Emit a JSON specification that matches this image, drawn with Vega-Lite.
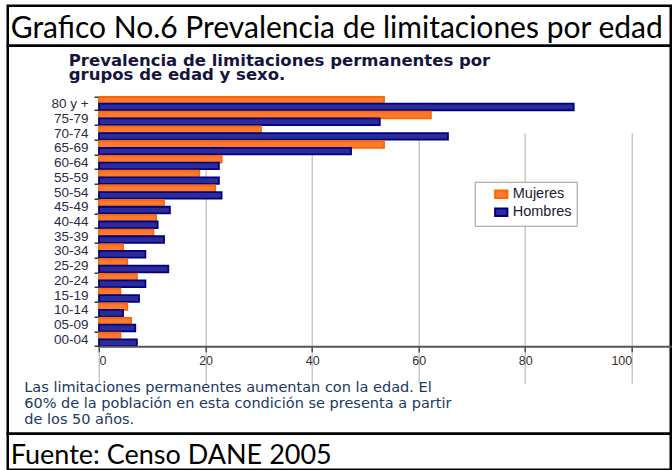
{
  "$schema": "https://vega.github.io/schema/vega-lite/v6.json",
  "padding": {"left": 5.75, "top": 3.75, "right": 0, "bottom": 0},
  "background": "white",
  "spacing": 0,
  "bounds": "flush",
  "resolve": {"scale": {"x": "independent", "y": "independent"}},
  "config": {"view": {"stroke": "#000", "strokeWidth": 2.5}, "concat": {"spacing": 0}},
  "vconcat": [
    {
      "width": 663,
      "height": 40,
      "data": {"values": [{"t": "Grafico No.6 Prevalencia de limitaciones por edad"}]},
      "mark": {"type": "text", "align": "left", "baseline": "alphabetic", "dx": 3, "dy": 12, "font": "Lato", "fontSize": 30, "color": "#000"},
      "encoding": {
        "text": {"field": "t"},
        "x": {"datum": 0, "type": "quantitative", "scale": {"domain": [0, 1]}, "axis": null},
        "y": {"datum": 0.5, "type": "quantitative", "scale": {"domain": [0, 1]}, "axis": null}
      }
    },
    {
      "width": 663,
      "height": 388,
      "title": {
        "text": ["Prevalencia de limitaciones permanentes por", "grupos de edad y sexo."],
        "anchor": "start",
        "frame": "group",
        "offset": -45,
        "dx": 61,
        "font": "DejaVu Sans",
        "fontSize": 16.5,
        "fontWeight": "bold",
        "color": "#141440",
        "lineHeight": 14.5
      },
      "layer": [
        {
          "data": {"values": [
            {"edad": "80 y +", "sexo": "Mujeres", "valor": 53.5}, {"edad": "80 y +", "sexo": "Hombres", "valor": 89.1},
            {"edad": "75-79", "sexo": "Mujeres", "valor": 62.3}, {"edad": "75-79", "sexo": "Hombres", "valor": 52.7},
            {"edad": "70-74", "sexo": "Mujeres", "valor": 30.4}, {"edad": "70-74", "sexo": "Hombres", "valor": 65.5},
            {"edad": "65-69", "sexo": "Mujeres", "valor": 53.5}, {"edad": "65-69", "sexo": "Hombres", "valor": 47.3},
            {"edad": "60-64", "sexo": "Mujeres", "valor": 23.0}, {"edad": "60-64", "sexo": "Hombres", "valor": 22.5},
            {"edad": "55-59", "sexo": "Mujeres", "valor": 18.8}, {"edad": "55-59", "sexo": "Hombres", "valor": 22.5},
            {"edad": "50-54", "sexo": "Mujeres", "valor": 21.8}, {"edad": "50-54", "sexo": "Hombres", "valor": 23.0},
            {"edad": "45-49", "sexo": "Mujeres", "valor": 12.2}, {"edad": "45-49", "sexo": "Hombres", "valor": 13.3},
            {"edad": "40-44", "sexo": "Mujeres", "valor": 10.7}, {"edad": "40-44", "sexo": "Hombres", "valor": 11.0},
            {"edad": "35-39", "sexo": "Mujeres", "valor": 10.2}, {"edad": "35-39", "sexo": "Hombres", "valor": 12.2},
            {"edad": "30-34", "sexo": "Mujeres", "valor": 4.5}, {"edad": "30-34", "sexo": "Hombres", "valor": 8.7},
            {"edad": "25-29", "sexo": "Mujeres", "valor": 5.3}, {"edad": "25-29", "sexo": "Hombres", "valor": 13.0},
            {"edad": "20-24", "sexo": "Mujeres", "valor": 7.1}, {"edad": "20-24", "sexo": "Hombres", "valor": 8.7},
            {"edad": "15-19", "sexo": "Mujeres", "valor": 4.0}, {"edad": "15-19", "sexo": "Hombres", "valor": 7.5},
            {"edad": "10-14", "sexo": "Mujeres", "valor": 5.3}, {"edad": "10-14", "sexo": "Hombres", "valor": 4.5},
            {"edad": "05-09", "sexo": "Mujeres", "valor": 6.0}, {"edad": "05-09", "sexo": "Hombres", "valor": 6.8},
            {"edad": "00-04", "sexo": "Mujeres", "valor": 4.0}, {"edad": "00-04", "sexo": "Hombres", "valor": 7.1}
          ]},
          "mark": {"type": "bar", "strokeWidth": 1.8},
          "encoding": {
            "x": {
              "field": "valor", "type": "quantitative",
              "scale": {"domain": [0, 100], "range": [91.3, 624], "nice": false},
              "axis": {
                "values": [0, 20, 40, 60, 80, 100],
                "grid": true, "gridColor": "#c8c8c8", "gridWidth": 1.5,
                "domain": false,
                "offset": -87,
                "tickSize": 5, "tickColor": "#555", "tickWidth": 1.5,
                "labelFont": "Liberation Sans", "labelFontSize": 12.5, "labelColor": "#333", "labelPadding": 3,
                "title": ["Las limitaciones permanentes aumentan con la edad. El", "60% de la población en esta condición se presenta a partir", "de los 50 años."],
                "titleFont": "DejaVu Sans", "titleFontSize": 14.5, "titleFontWeight": "normal", "titleColor": "#203864",
                "titleAnchor": "start", "titleAlign": "left", "titleBaseline": "top",
                "titleX": 16, "titleY": 34, "titleLineHeight": 16
              }
            },
            "y": {
              "field": "edad", "type": "nominal",
              "scale": {
                "type": "band",
                "domain": ["80 y +", "75-79", "70-74", "65-69", "60-64", "55-59", "50-54", "45-49", "40-44", "35-39", "30-34", "25-29", "20-24", "15-19", "10-14", "05-09", "00-04"],
                "range": [50.5, 301],
                "paddingInner": 0.1, "paddingOuter": 0.05, "round": false
              },
              "axis": {
                "title": null, "domain": true, "domainColor": "#333", "domainWidth": 1.5,
                "offset": -91.3,
                "tickBand": "extent", "tickSize": 5, "tickColor": "#333", "tickWidth": 1.5,
                "labelFont": "Liberation Sans", "labelFontSize": 13.5, "labelColor": "#2b2b48", "labelPadding": 6
              }
            },
            "yOffset": {"field": "sexo", "type": "nominal", "sort": ["Mujeres", "Hombres"], "scale": {"paddingInner": 0, "paddingOuter": 0}},
            "fill": {
              "field": "sexo", "type": "nominal",
              "scale": {"domain": ["Mujeres", "Hombres"], "range": ["#FF7A2E", "#2B2B9A"]},
              "legend": {
                "title": null,
                "orient": "none", "legendX": 467, "legendY": 176,
                "padding": 5, "strokeColor": "#999", "fillColor": "#fff",
                "symbolType": "M-1,-0.62H1V0.62H-1Z", "symbolSize": 150, "symbolStrokeWidth": 2, "symbolOffset": 14,
                "labelFont": "Liberation Sans", "labelFontSize": 14.5, "labelColor": "#1a1a33", "rowPadding": 1, "labelOffset": 4
              }
            },
            "stroke": {
              "field": "sexo", "type": "nominal",
              "scale": {"domain": ["Mujeres", "Hombres"], "range": ["#FF6600", "#000080"]},
              "legend": {
                "title": null,
                "orient": "none", "legendX": 467, "legendY": 176,
                "padding": 5, "strokeColor": "#999", "fillColor": "#fff",
                "symbolType": "M-1,-0.62H1V0.62H-1Z", "symbolSize": 150, "symbolStrokeWidth": 2, "symbolOffset": 14,
                "labelFont": "Liberation Sans", "labelFontSize": 14.5, "labelColor": "#1a1a33", "rowPadding": 1, "labelOffset": 4
              }
            }
          }
        },
        {
          "data": {"values": [{"x1": 0, "x2": 107.5, "yb": "00-04"}]},
          "mark": {"type": "rule", "color": "#555", "strokeWidth": 2},
          "encoding": {
            "x": {"field": "x1", "type": "quantitative"},
            "x2": {"field": "x2"},
            "y": {"field": "yb", "type": "nominal", "bandPosition": 1.05}
          }
        }
      ]
    },
    {
      "width": 663,
      "height": 36,
      "data": {"values": [{"t": "Fuente: Censo DANE 2005"}]},
      "mark": {"type": "text", "align": "left", "baseline": "alphabetic", "dx": 3, "dy": 12, "font": "Lato", "fontSize": 27, "color": "#000"},
      "encoding": {
        "text": {"field": "t"},
        "x": {"datum": 0, "type": "quantitative", "scale": {"domain": [0, 1]}, "axis": null},
        "y": {"datum": 0.5, "type": "quantitative", "scale": {"domain": [0, 1]}, "axis": null}
      }
    }
  ]
}
